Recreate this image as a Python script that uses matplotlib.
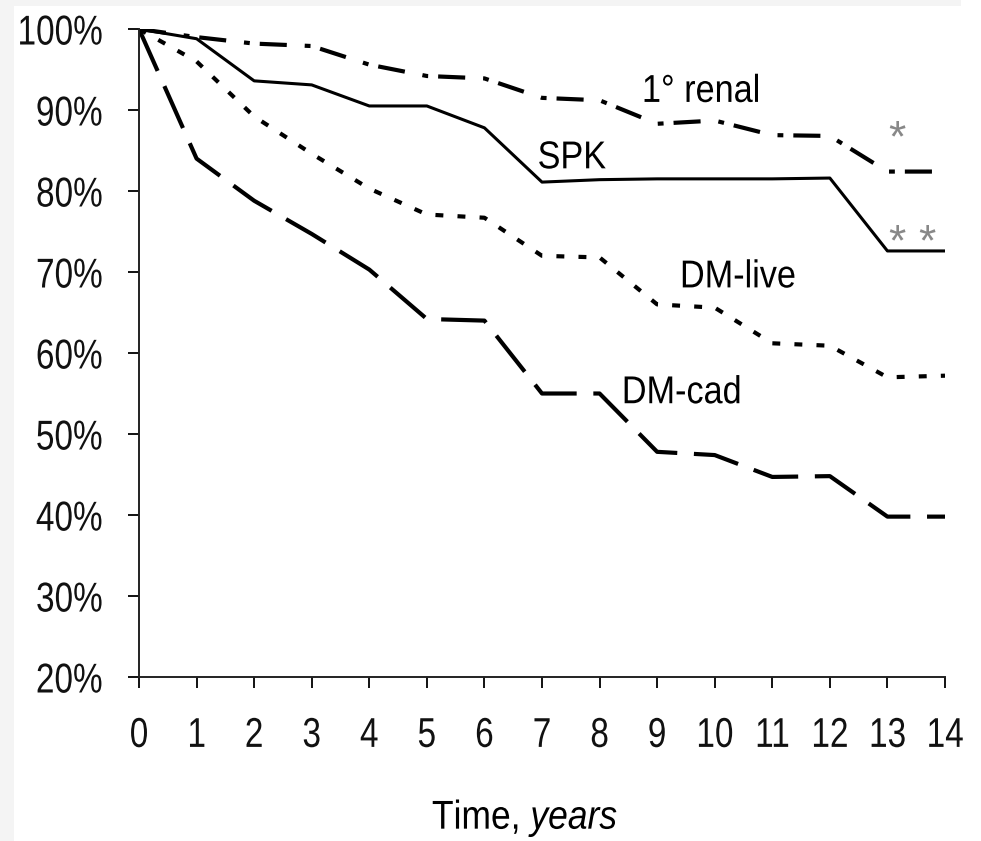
import matplotlib
matplotlib.use("Agg")
import matplotlib.pyplot as plt
from matplotlib.patches import Rectangle
from matplotlib.patheffects import AbstractPathEffect
from matplotlib.transforms import Affine2D

# supervivencia por año de seguimiento (%)
years = list(range(15))
spk = [100, 98.8, 93.6, 93.1, 90.5, 90.5, 87.8, 81.1, 81.4, 81.5, 81.5, 81.5, 81.6, 72.6, 72.6]
renal = [100, 99.0, 98.2, 97.9, 95.6, 94.2, 93.9, 91.5, 91.2, 88.3, 88.7, 86.9, 86.8, 82.4, 82.4]
dm_live = [100, 96.0, 89.2, 84.6, 80.3, 77.1, 76.7, 72.0, 71.8, 66.0, 65.6, 61.2, 60.9, 57.0, 57.2]
dm_cad = [100, 84.0, 78.8, 74.7, 70.3, 64.2, 64.0, 55.0, 55.0, 47.8, 47.4, 44.7, 44.8, 39.8, 39.8]

y_ticks = [20, 30, 40, 50, 60, 70, 80, 90, 100]
y_ticklabels = ["20%", "30%", "40%", "50%", "60%", "70%", "80%", "90%", "100%"]


class Estrecha(AbstractPathEffect):
    """Comprime el texto en horizontal (letra condensada)."""

    def __init__(self, factor=0.8, ancla="center"):
        super().__init__()
        self.factor = factor
        self.ancla = ancla

    def draw_path(self, renderer, gc, tpath, affine, rgbFace=None):
        ext = tpath.get_extents(affine)
        if self.ancla == "left":
            cx = ext.x0
        elif self.ancla == "right":
            cx = ext.x1
        else:
            cx = 0.5 * (ext.x0 + ext.x1)
        t = affine + Affine2D().translate(-cx, 0).scale(self.factor, 1).translate(cx, 0)
        renderer.draw_path(gc, tpath, t, rgbFace)


plt.rcParams["font.family"] = ["Liberation Sans", "DejaVu Sans"]
plt.rcParams["mathtext.fontset"] = "custom"
plt.rcParams["mathtext.rm"] = "Liberation Sans"
plt.rcParams["mathtext.it"] = "Liberation Sans:italic"

fig = plt.figure(figsize=(9.81, 8.41), dpi=100, facecolor="white")
# franjas grises del borde
fig.patches.append(Rectangle((0, 0), 14 / 981, 1, transform=fig.transFigure,
                             facecolor="#f4f4f4", edgecolor="none", zorder=0))
fig.patches.append(Rectangle((0, 1 - 6 / 841), 961 / 981, 6 / 841, transform=fig.transFigure,
                             facecolor="#f4f4f4", edgecolor="none", zorder=0))

ax = fig.add_axes([0.1417, 0.195, 0.8216, 0.7705])

ax.plot(years, renal, color="black", lw=3, linestyle=(0, (6.5, 4.3, 1.4, 2.4)))
ax.plot(years, spk, color="black", lw=2.2, linestyle="-")
ax.plot(years, dm_live, color="black", lw=3, linestyle=(0, (1.9, 3.4)))
ax.plot(years, dm_cad, color="black", lw=3, linestyle=(0, (11, 4)))

etiquetas = [
    (8.73, 91.0, "1° renal"),
    (6.92, 82.8, "SPK"),
    (9.39, 68.1, "DM-live"),
    (8.38, 53.8, "DM-cad"),
]
for x, y, s in etiquetas:
    ax.text(x, y, s, fontsize=28, va="baseline", ha="left",
            path_effects=[Estrecha(0.88, "left")])

# asteriscos de significación
ax.text(13.17, 84.86, "*", fontsize=32, color="#888888", va="baseline", ha="center")
ax.text(13.17, 72.03, "*", fontsize=32, color="#888888", va="baseline", ha="center")
ax.text(13.69, 72.03, "*", fontsize=32, color="#888888", va="baseline", ha="center")

ax.set_xlim(0, 14)
ax.set_ylim(20, 100)
ax.set_xticks(years)
ax.set_yticks(y_ticks)
ax.set_yticklabels(y_ticklabels)

for lado in ["top", "right"]:
    ax.spines[lado].set_visible(False)
for lado in ["left", "bottom"]:
    ax.spines[lado].set_linewidth(1.4)
    ax.spines[lado].set_color("#222222")

ax.tick_params(axis="x", direction="out", length=8, width=1.4, pad=20, labelsize=30, colors="#111111")
ax.tick_params(axis="y", direction="out", length=8, width=1.4, pad=18, labelsize=30, colors="#111111")
for lab in ax.get_xticklabels():
    lab.set_path_effects([Estrecha(0.8, "center")])
for lab in ax.get_yticklabels():
    lab.set_path_effects([Estrecha(0.8, "right")])

ax.set_xlabel("Time, $\\mathit{years}$", fontsize=29)
ax.xaxis.label.set_path_effects([Estrecha(0.88, "center")])
ax.xaxis.set_label_coords((525 - 139) / 806, -0.185)

fig.savefig("out.png", dpi=100, facecolor=fig.get_facecolor())
